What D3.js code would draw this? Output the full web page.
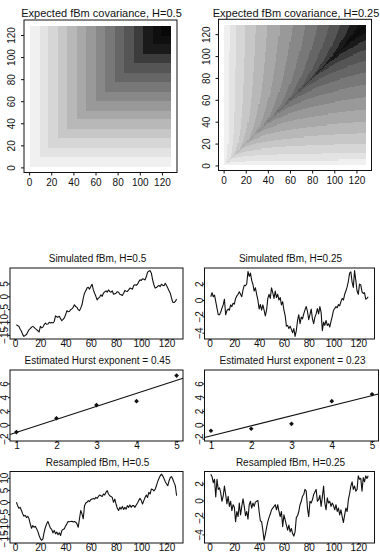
<!DOCTYPE html>
<html>
<head>
<meta charset="utf-8">
<script src="https://cdn.jsdelivr.net/npm/d3@7"></script>
<style>
  body { margin: 0; background: #fff; }
  svg { display: block; }
</style>
</head>
<body>
<script>
// ---- data ----
const GRID_N = 128;               // covariance grid is 1..128 on both axes
const COV_H = [0.5, 0.25];        // Hurst values of the two covariance images

const SIM_H05 = [-11.0,-11.5,-11.7,-12.8,-13.6,-14.9,-15.6,-15.2,-14.9,-13.9,
  -13.0,-12.6,-12.0,-11.7,-12.1,-12.6,-13.0,-13.4,-13.9,-11.7,
  -12.3,-12.0,-11.0,-10.4,-10.9,-10.8,-10.1,-10.4,-10.2,-10.4,
  -9.8,-7.6,-8.0,-8.1,-7.8,-8.7,-9.5,-9.0,-8.4,-7.2,
  -5.6,-6.0,-5.9,-5.2,-4.9,-4.3,-3.3,-4.0,-4.3,-5.2,
  -5.6,-4.6,-3.3,-0.7,1.2,2.2,3.2,3.5,2.8,3.8,
  4.7,2.5,1.2,0.0,-1.4,-0.7,-0.3,0.6,0.0,1.2,
  1.7,2.1,1.6,2.5,1.9,1.6,2.1,0.8,1.0,1.2,
  1.8,1.6,0.8,0.6,0.3,1.2,2.3,2.0,1.9,2.5,
  3.2,3.0,2.8,4.2,4.5,4.3,4.7,5.7,6.4,6.2,
  6.8,6.6,6.4,7.7,9.4,9.8,10.0,9.0,6.4,4.5,
  3.2,3.4,3.9,4.2,3.8,4.7,4.3,4.1,5.1,4.2,
  3.2,2.2,1.2,-0.7,-2.3,-2.4,-2.0,-1.1];

const SIM_H025 = [0.4,0.9,0.4,0.6,-0.2,-1.0,-1.8,-1.8,-1.5,-1.0,
  -0.6,0.1,-1.8,-1.3,-1.1,-1.25,-0.6,-0.8,-0.4,-0.5,
  0.2,0.5,0.7,1.0,0.7,0.4,1.25,1.8,1.75,2.0,
  3.5,2.9,3.3,2.4,1.9,1.1,1.5,0.7,0.0,-1.1,
  -0.55,-1.25,-0.6,-1.25,-1.95,-1.25,0.2,0.7,0.2,1.5,
  0.9,0.2,1.1,0.3,0.7,0.0,0.3,-0.6,-0.2,-1.25,
  -1.9,-3.2,-3.1,-3.5,-3.2,-3.6,-4.0,-3.5,-4.45,-3.75,
  -2.5,-1.8,-2.9,-2.1,-2.3,-1.7,-1.2,-0.8,-1.4,-2.4,
  -1.8,-1.1,-2.3,-2.9,-2.1,-1.7,-1.05,-1.7,-0.8,-1.5,
  -3.75,-2.7,-3.1,-2.5,-3.1,-2.9,-3.3,-2.6,-2.0,-1.25,
  -1.05,-0.8,-0.95,-0.55,-0.7,-0.2,0.2,0.0,0.7,1.1,
  1.6,2.3,3.3,3.45,2.2,1.55,3.6,2.4,1.1,0.7,
  1.95,1.85,1.0,0.8,0.9,0.1,0.2,0.4];

const RES_H05 = [-0.1,-1.5,-2.6,-2.2,-3.5,-4.9,-5.8,-5.5,-6.4,-5.9,
  -6.9,-9.0,-10.8,-9.7,-10.4,-10.0,-11.0,-12.1,-13.8,-15.1,
  -15.8,-15.2,-12.4,-10.4,-9.0,-8.0,-9.4,-10.8,-11.3,-12.7,
  -11.7,-13.1,-12.4,-13.5,-12.7,-13.8,-11.8,-11.3,-11.0,-9.9,
  -9.0,-8.0,-8.1,-8.0,-7.9,-8.2,-8.0,-8.3,-9.0,-10.4,
  -6.9,-3.5,-4.9,-6.9,-1.5,-0.4,-0.1,0.6,0.2,1.0,
  1.2,1.5,1.2,1.9,1.5,2.3,2.9,2.6,2.3,3.3,
  2.9,4.0,4.7,3.3,2.6,2.3,1.9,-0.1,1.2,-0.8,
  -2.6,-3.5,-2.2,-2.9,-1.8,-3.1,-2.2,-2.9,-1.5,-2.2,
  -1.2,-2.2,-1.5,-1.5,-2.2,-1.2,-0.4,0.6,1.5,0.6,
  -0.8,0.6,1.9,2.9,1.9,4.0,3.3,5.4,5.2,4.6,
  5.2,6.7,8.4,9.7,10.8,11.5,10.8,9.7,8.4,7.5,
  6.7,8.7,10.1,10.5,9.4,8.0,6.7,2.6];

const RES_H025 = [3.1,2.8,2.1,2.5,0.4,2.5,1.3,1.5,0.9,-0.1,
  0.5,1.7,0.7,-0.4,0.5,-0.7,-0.1,-1.2,-0.5,-0.8,
  -2.5,-1.3,-1.9,-0.3,-1.7,-0.7,0.2,-0.7,-1.8,-1.3,
  -2.2,-0.5,-0.1,-0.9,-0.3,-0.7,-0.2,-0.1,0.0,-1.3,
  -2.4,-2.5,-3.5,-4.7,-4.0,-3.2,-2.5,-2.0,-1.6,-1.1,
  -0.9,-0.7,-0.5,-1.1,-0.5,-1.3,-1.9,-1.3,-3.1,-1.7,
  -2.3,-2.9,-3.5,-2.9,-3.7,-3.3,-3.9,-4.2,-3.7,-2.0,
  -1.8,-1.3,-0.5,-0.1,0.5,0.7,1.3,1.1,-0.9,-1.9,
  -0.1,-0.3,0.1,0.7,1.0,1.3,-0.1,0.1,0.6,-0.7,
  0.4,1.7,-0.3,-1.1,0.3,-0.3,-0.1,-0.7,-0.3,-0.6,
  -1.1,-0.5,-1.3,-0.9,-1.7,-1.1,-1.9,-2.6,-1.7,-0.9,
  -1.3,0.1,0.8,1.7,2.2,1.3,1.7,1.1,1.3,2.9,
  2.5,2.6,1.1,2.7,2.2,2.9,2.6,2.9];

const HURST_X = [1, 2, 3, 4, 5];
const HURST_Y05 = [-1.05, 0.95, 2.86, 3.43, 7.14];
const HURST_Y025 = [-0.86, -0.57, 0.14, 3.43, 4.43];
const HURST_YLIM = [-2.35, 7.95];

const TITLES = ["Expected fBm covariance, H=0.5", "Expected fBm covariance, H=0.25",
  "Simulated fBm, H=0.5", "Simulated fBm, H=0.25",
  "Estimated Hurst exponent = 0.45", "Estimated Hurst exponent = 0.23",
  "Resampled fBm, H=0.5", "Resampled fBm, H=0.25"];

const INDEX_TICKS = [0, 20, 40, 60, 80, 100, 120];
const HURST_XTICKS = [1, 2, 3, 4, 5];
const HURST_YTICKS = [-2, 0, 2, 4, 6];
const TICKS_H05 = [-15, -10, -5, 0, 5];
const TICKS_RES_H05 = [-15, -10, -5, 0, 5, 10];
const TICKS_H025 = [-4, -2, 0, 2];

// ---- page ----
const WIDTH = 380, HEIGHT = 553;
const FONT = "'Liberation Sans', Arial, Helvetica, sans-serif";
const INK = "#111";
// 15 grey shades, light to dark (as they print in the figure)
const GRAY_LEVELS = [0.94, 0.89, 0.84, 0.78, 0.72, 0.66, 0.60, 0.535, 0.47, 0.40, 0.335, 0.235, 0.10, 0.06, 0.03];
const GRAYS = GRAY_LEVELS.map(v => { const c = Math.round(255 * v); return d3.rgb(c, c, c).formatHex(); });

const svg = d3.select("body").append("svg")
    .attr("width", WIDTH)
    .attr("height", HEIGHT)
    .style("background", "#fff");

// R style axis range: 4% extra on both sides
const rPad = ([a, b]) => { const d = (b - a) * 0.04; return [a - d, b + d]; };
const fmt = d3.format("d");

function drawAxes(box, x, y, xt, yt, st) {
  const capX = st.xFs * 0.72, capY = st.yFs * 0.72;
  svg.append("g")
      .attr("transform", `translate(0,${box.y1})`)
      .attr("font-family", FONT).attr("font-size", st.xFs).style("color", INK)
      .call(d3.axisBottom(x).tickValues(xt).tickFormat(fmt).tickSize(st.tick).tickSizeOuter(0))
      .call(g => g.select(".domain").remove())
      .call(g => g.selectAll("text").attr("y", st.xOff + capX / 2).attr("dy", null));
  svg.append("g")
      .attr("transform", `translate(${box.x0},0)`)
      .attr("font-family", FONT).attr("font-size", st.yFs).style("color", INK)
      .call(d3.axisLeft(y).tickValues(yt).tickFormat(fmt).tickSize(st.tick).tickSizeOuter(0))
      .call(g => g.select(".domain").remove())
      .call(g => g.selectAll("text")
          .attr("x", null).attr("dy", null)
          .attr("text-anchor", "middle")
          .attr("transform", `translate(${-st.yOff + capY / 2},0) rotate(-90)`));
  svg.append("rect")
      .attr("x", box.x0).attr("y", box.y0)
      .attr("width", box.x1 - box.x0).attr("height", box.y1 - box.y0)
      .attr("fill", "none").attr("stroke", INK).attr("stroke-width", 1);
}

function drawTitle(box, text, baseline, fs, shift) {
  svg.append("text")
      .attr("x", (box.x0 + box.x1) / 2 + shift)
      .attr("y", baseline)
      .attr("text-anchor", "middle")
      .attr("font-family", FONT)
      .attr("font-size", fs)
      .attr("fill", INK)
      .text(text);
}

// ---- covariance images ----
const HEAT_STYLE = {xFs: 9, yFs: 7.4, xOff: 10.7, yOff: 11.5, tick: 3};

function drawHeat(box, H, title) {
  const dom = rPad([0.5, GRID_N + 0.5]);
  const x = d3.scaleLinear().domain(dom).range([box.x0, box.x1]);
  const y = d3.scaleLinear().domain(dom).range([box.y1, box.y0]);
  const idx = d3.range(1, GRID_N + 1);
  // expected covariance of fBm at (s, t): row = t, column = s
  const z = idx.map(t => idx.map(s => 0.5 * (s ** (2 * H) + t ** (2 * H) - Math.abs(s - t) ** (2 * H))));
  const color = d3.scaleQuantize().domain(d3.extent(z.flat())).range(GRAYS);

  // one path per grey, rows merged into runs of equal colour
  const paths = new Map(GRAYS.map(c => [c, d3.path()]));
  z.forEach((row, j) => {
    let i0 = 0;
    for (let i = 1; i <= row.length; i++) {
      if (i === row.length || color(row[i]) !== color(row[i0])) {
        const xa = x(i0 + 0.5), xb = x(i + 0.5);
        const ya = y(j + 1.5), yb = y(j + 0.5);
        paths.get(color(row[i0])).rect(xa, ya, xb - xa, yb - ya);
        i0 = i;
      }
    }
  });
  svg.append("g").selectAll("path")
      .data(GRAYS)
      .join("path")
      .attr("d", c => paths.get(c).toString())
      .attr("fill", c => c)
      .attr("shape-rendering", "crispEdges");

  drawAxes(box, x, y, INDEX_TICKS, INDEX_TICKS, HEAT_STYLE);
  drawTitle(box, title, 17, 11, 1);
}

drawHeat({x0: 24, x1: 177, y0: 20, y1: 172.5}, COV_H[0], TITLES[0]);
drawHeat({x0: 218.5, x1: 371.5, y0: 19.3, y1: 170.5}, COV_H[1], TITLES[1]);

// ---- path plots ----
const LINE_STYLE = {xFs: 6, yFs: 5.8, xOff: 6, yOff: 3.8, tick: 2};
const HURST_STYLE = {xFs: 4.6, yFs: 4.6, xOff: 6, yOff: 3.6, tick: 2};

const LEFT = [10, 183], RIGHT = [204.5, 374.5];
const ROW_SIM = [268, 339], ROW_HURST = [370, 441], ROW_RES = [471.5, 543];

function drawPath(cols, rows, values, yTicks, title, titleBase) {
  const box = {x0: cols[0], x1: cols[1], y0: rows[0], y1: rows[1]};
  const x = d3.scaleLinear().domain(rPad([1, values.length])).range([box.x0, box.x1]);
  const y = d3.scaleLinear().domain(rPad(d3.extent(values))).range([box.y1, box.y0]);
  const line = d3.line().x((d, i) => x(i + 1)).y(d => y(d));
  svg.append("path")
      .datum(values)
      .attr("d", line)
      .attr("fill", "none")
      .attr("stroke", INK)
      .attr("stroke-width", 1.1)
      .attr("stroke-linejoin", "round");
  drawAxes(box, x, y, INDEX_TICKS, yTicks, LINE_STYLE);
  drawTitle(box, title, titleBase, 10, 1);
}

drawPath(LEFT, ROW_SIM, SIM_H05, TICKS_H05, TITLES[2], 262);
drawPath(RIGHT, ROW_SIM, SIM_H025, TICKS_H025, TITLES[3], 262);
drawPath(LEFT, ROW_RES, RES_H05, TICKS_RES_H05, TITLES[6], 465.5);
drawPath(RIGHT, ROW_RES, RES_H025, TICKS_H025, TITLES[7], 465.5);

// ---- log-variance fits ----
function drawHurst(cols, ys, title) {
  const box = {x0: cols[0], x1: cols[1], y0: ROW_HURST[0], y1: ROW_HURST[1]};
  const xd = rPad(d3.extent(HURST_X));
  const x = d3.scaleLinear().domain(xd).range([box.x0, box.x1]);
  const y = d3.scaleLinear().domain(HURST_YLIM).range([box.y1, box.y0]);

  // least squares line through the points, drawn across the whole plot
  const mx = d3.mean(HURST_X), my = d3.mean(ys);
  const slope = d3.sum(HURST_X, (v, i) => (v - mx) * (ys[i] - my)) / d3.sum(HURST_X, v => (v - mx) ** 2);
  const fit = v => my + slope * (v - mx);
  svg.append("line")
      .attr("x1", x(xd[0])).attr("y1", y(fit(xd[0])))
      .attr("x2", x(xd[1])).attr("y2", y(fit(xd[1])))
      .attr("stroke", INK).attr("stroke-width", 1.1);

  svg.append("g").selectAll("path")
      .data(HURST_X)
      .join("path")
      .attr("d", d3.symbol(d3.symbolSquare, 11))
      .attr("transform", (d, i) => `translate(${x(d)},${y(ys[i])}) rotate(45)`)
      .attr("fill", INK);

  drawAxes(box, x, y, HURST_XTICKS, HURST_YTICKS, HURST_STYLE);
  drawTitle(box, title, 364, 10, 1);
}

drawHurst(LEFT, HURST_Y05, TITLES[4]);
drawHurst([204.5, 378.5], HURST_Y025, TITLES[5]);
</script>
</body>
</html>
